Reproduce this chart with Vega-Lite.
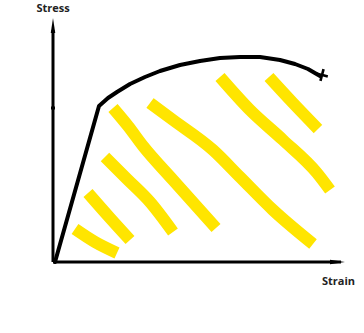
{
  "$schema": "https://vega.github.io/schema/vega-lite/v6.json",
  "width": 364,
  "height": 333,
  "padding": 0,
  "autosize": {"type": "none"},
  "background": "white",
  "config": {"view": {"stroke": null}},
  "datasets": {
    "hatch": [
      {"s": "A", "i": 1, "strain": 22, "stress": 33},
      {"s": "A", "i": 2, "strain": 42, "stress": 20},
      {"s": "A", "i": 3, "strain": 64, "stress": 9},
      {"s": "B", "i": 1, "strain": 35, "stress": 69},
      {"s": "B", "i": 2, "strain": 57, "stress": 44},
      {"s": "B", "i": 3, "strain": 77, "stress": 22},
      {"s": "C", "i": 1, "strain": 52, "stress": 105},
      {"s": "C", "i": 2, "strain": 74, "stress": 83},
      {"s": "C", "i": 3, "strain": 97, "stress": 60},
      {"s": "C", "i": 4, "strain": 120, "stress": 30},
      {"s": "D", "i": 1, "strain": 60, "stress": 154},
      {"s": "D", "i": 2, "strain": 75, "stress": 136},
      {"s": "D", "i": 3, "strain": 90, "stress": 116},
      {"s": "D", "i": 4, "strain": 120, "stress": 82},
      {"s": "D", "i": 5, "strain": 163, "stress": 34},
      {"s": "E", "i": 1, "strain": 97, "stress": 159},
      {"s": "E", "i": 2, "strain": 120, "stress": 142},
      {"s": "E", "i": 3, "strain": 160, "stress": 112},
      {"s": "E", "i": 4, "strain": 187, "stress": 85},
      {"s": "E", "i": 5, "strain": 220, "stress": 52},
      {"s": "E", "i": 6, "strain": 260, "stress": 18},
      {"s": "F", "i": 1, "strain": 167, "stress": 185},
      {"s": "F", "i": 2, "strain": 197, "stress": 152},
      {"s": "F", "i": 3, "strain": 230, "stress": 122},
      {"s": "F", "i": 4, "strain": 264, "stress": 89},
      {"s": "F", "i": 5, "strain": 277, "stress": 72},
      {"s": "G", "i": 1, "strain": 216, "stress": 185},
      {"s": "G", "i": 2, "strain": 240, "stress": 159},
      {"s": "G", "i": 3, "strain": 265, "stress": 133}
    ],
    "curve": [
      {"i": 1, "strain": 2, "stress": 0},
      {"i": 2, "strain": 46, "stress": 156},
      {"i": 3, "strain": 55, "stress": 164},
      {"i": 4, "strain": 64, "stress": 170},
      {"i": 5, "strain": 77, "stress": 178},
      {"i": 6, "strain": 92, "stress": 185},
      {"i": 7, "strain": 107, "stress": 191},
      {"i": 8, "strain": 127, "stress": 197},
      {"i": 9, "strain": 147, "stress": 201},
      {"i": 10, "strain": 167, "stress": 204},
      {"i": 11, "strain": 187, "stress": 205},
      {"i": 12, "strain": 207, "stress": 205},
      {"i": 13, "strain": 227, "stress": 202},
      {"i": 14, "strain": 242, "stress": 198},
      {"i": 15, "strain": 255, "stress": 193},
      {"i": 16, "strain": 267, "stress": 186}
    ],
    "axes": [
      {"strain": 0, "stress": 0, "strain2": 0, "stress2": 232},
      {"strain": 0, "stress": 0, "strain2": 288, "stress2": 0},
      {"strain": -2, "stress": 154, "strain2": 2, "stress2": 154}
    ]
  },
  "encoding": {
    "x": {"type": "quantitative", "scale": {"domain": [-53, 311]}, "axis": null},
    "y": {"type": "quantitative", "scale": {"domain": [-71, 262]}, "axis": null}
  },
  "layer": [
    {
      "data": {"name": "hatch"},
      "mark": {"type": "line", "color": "#FFE500", "strokeWidth": 12, "strokeCap": "butt", "strokeJoin": "round", "interpolate": "monotone"},
      "encoding": {
        "x": {"field": "strain"},
        "y": {"field": "stress"},
        "detail": {"field": "s"},
        "order": {"field": "i", "type": "quantitative"}
      }
    },
    {
      "data": {"name": "axes"},
      "mark": {"type": "rule", "color": "black", "strokeWidth": 3},
      "encoding": {
        "x": {"field": "strain"},
        "y": {"field": "stress"},
        "x2": {"field": "strain2"},
        "y2": {"field": "stress2"}
      }
    },
    {
      "data": {"name": "curve"},
      "mark": {"type": "line", "color": "black", "strokeWidth": 4, "strokeCap": "round", "strokeJoin": "round"},
      "encoding": {
        "x": {"field": "strain"},
        "y": {"field": "stress"},
        "order": {"field": "i", "type": "quantitative"}
      }
    },
    {
      "data": {"values": [{"strain": 0, "stress": 236.5}]},
      "mark": {"type": "point", "filled": true, "color": "black", "opacity": 1, "size": 225, "shape": "M0,-1L0.3,1L-0.3,1Z"},
      "encoding": {"x": {"field": "strain"}, "y": {"field": "stress"}}
    },
    {
      "data": {"values": [{"strain": 284.5, "stress": 0}]},
      "mark": {"type": "point", "filled": true, "color": "black", "opacity": 1, "size": 225, "shape": "M1,0L-1,-0.3L-1,0.3Z"},
      "encoding": {"x": {"field": "strain"}, "y": {"field": "stress"}}
    },
    {
      "data": {"values": [{"strain": 269, "stress": 187}]},
      "mark": {"type": "point", "filled": true, "color": "black", "opacity": 1, "size": 144, "angle": 15, "shape": "M-1,-0.22H-0.22V-1H0.22V-0.22H1V0.22H0.22V1H-0.22V0.22H-1Z"},
      "encoding": {"x": {"field": "strain"}, "y": {"field": "stress"}}
    },
    {
      "data": {"values": [{"strain": 0, "stress": 253, "label": "Stress"}, {"strain": 285.5, "stress": -20, "label": "Strain"}]},
      "mark": {"type": "text", "font": "Open Sans", "fontWeight": "bold", "fontSize": 11, "color": "#222222", "align": "center", "baseline": "middle"},
      "encoding": {"x": {"field": "strain"}, "y": {"field": "stress"}, "text": {"field": "label"}}
    }
  ]
}
